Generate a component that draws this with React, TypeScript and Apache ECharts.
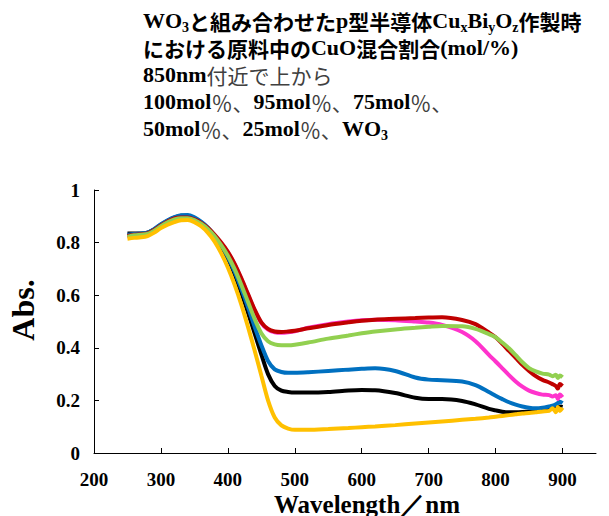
import React, { useEffect, useRef } from "react";
import * as echarts from "echarts";

const wavelengths = [250, 260, 270, 280, 290, 300, 310, 320, 330, 340, 350, 360, 370, 380, 390, 400, 410, 420, 430, 440, 450, 460, 470, 480, 490, 500, 520, 550, 580, 600, 620, 650, 680, 700, 720, 750, 770, 790, 800, 810, 820, 830, 840, 850, 860, 870, 880, 885, 890, 893, 896, 900];

const wo3 = [0.835, 0.835, 0.835, 0.838, 0.85, 0.868, 0.883, 0.895, 0.902, 0.902, 0.893, 0.877, 0.855, 0.825, 0.785, 0.74, 0.68, 0.61, 0.535, 0.455, 0.375, 0.3, 0.255, 0.237, 0.232, 0.23, 0.23, 0.232, 0.238, 0.24, 0.239, 0.228, 0.21, 0.205, 0.205, 0.198, 0.185, 0.168, 0.162, 0.157, 0.155, 0.155, 0.156, 0.158, 0.162, 0.167, 0.17, 0.172, 0.174, 0.175, 0.177, 0.175];
const mol25 = [0.83, 0.833, 0.835, 0.838, 0.852, 0.87, 0.885, 0.897, 0.904, 0.905, 0.896, 0.88, 0.858, 0.828, 0.79, 0.745, 0.69, 0.625, 0.555, 0.48, 0.41, 0.35, 0.318, 0.308, 0.305, 0.305, 0.307, 0.312, 0.317, 0.32, 0.322, 0.312, 0.287, 0.279, 0.277, 0.272, 0.258, 0.232, 0.218, 0.205, 0.193, 0.184, 0.177, 0.172, 0.17, 0.172, 0.177, 0.18, 0.185, 0.19, 0.195, 0.19];
const mol75 = [0.822, 0.827, 0.829, 0.832, 0.845, 0.862, 0.877, 0.889, 0.892, 0.892, 0.885, 0.872, 0.853, 0.827, 0.797, 0.762, 0.717, 0.662, 0.602, 0.542, 0.494, 0.469, 0.459, 0.457, 0.459, 0.463, 0.476, 0.49, 0.5, 0.505, 0.507, 0.505, 0.5, 0.496, 0.487, 0.46, 0.425, 0.373, 0.348, 0.322, 0.296, 0.272, 0.252, 0.237, 0.228, 0.222, 0.22, 0.215, 0.22, 0.205, 0.222, 0.212];
const mol100 = [0.825, 0.83, 0.832, 0.835, 0.848, 0.865, 0.88, 0.892, 0.895, 0.895, 0.888, 0.875, 0.856, 0.83, 0.8, 0.765, 0.72, 0.665, 0.605, 0.545, 0.497, 0.472, 0.462, 0.46, 0.462, 0.465, 0.474, 0.487, 0.497, 0.503, 0.507, 0.51, 0.513, 0.515, 0.516, 0.506, 0.49, 0.458, 0.44, 0.415, 0.388, 0.362, 0.335, 0.312, 0.292, 0.278, 0.268, 0.262, 0.255, 0.245, 0.262, 0.255];
const mol95 = [0.822, 0.828, 0.83, 0.833, 0.845, 0.862, 0.877, 0.888, 0.893, 0.893, 0.886, 0.872, 0.852, 0.825, 0.79, 0.75, 0.7, 0.64, 0.575, 0.51, 0.455, 0.425, 0.413, 0.41, 0.41, 0.412, 0.42, 0.435, 0.447, 0.455, 0.462, 0.47, 0.476, 0.48, 0.483, 0.482, 0.472, 0.452, 0.44, 0.42, 0.398, 0.372, 0.345, 0.323, 0.31, 0.302, 0.298, 0.292, 0.298, 0.285, 0.295, 0.288];
const mol50 = [0.815, 0.818, 0.82, 0.825, 0.838, 0.855, 0.868, 0.878, 0.885, 0.886, 0.878, 0.862, 0.838, 0.805, 0.76, 0.705, 0.64, 0.565, 0.48, 0.39, 0.295, 0.2, 0.135, 0.105, 0.093, 0.088, 0.088, 0.091, 0.095, 0.098, 0.101, 0.106, 0.112, 0.116, 0.12, 0.126, 0.13, 0.135, 0.138, 0.141, 0.144, 0.147, 0.15, 0.152, 0.155, 0.158, 0.16, 0.17, 0.155, 0.175, 0.16, 0.172];

const seriesNames = ["WO3", "25mol%", "75mol%", "100mol%", "95mol%", "50mol%"];
const seriesValues = [wo3, mol25, mol75, mol100, mol95, mol50];
const seriesColors = ["#000000", "#0070C0", "#FF33CC", "#C00000", "#92D050", "#FFC000"];

const xTickValues = [200, 300, 400, 500, 600, 700, 800, 900];
const yTickValues = [0, 0.2, 0.4, 0.6, 0.8, 1];

const titleLines = [
  "{b|WO}{sub|3}{j|と組み合わせた}{b|p}{j|型半導体}{b|Cu}{sub|x}{b|Bi}{sub|y}{b|O}{sub|z}{j|作製時}",
  "{j|における原料中の}{b|CuO}{j|混合割合}{b|(mol/%)}",
  "{b|850nm}{n|付近で上から}",
  "{b|100mol}{p|％、}{b|95mol}{p|％、}{b|75mol}{p|％、}",
  "{b|50mol}{p|％、}{b|25mol}{p|％、}{b|WO}{sub|3}",
];

const SERIF = '"Liberation Serif", "Times New Roman", serif';
const CJK = '"Noto Sans CJK JP", sans-serif';

export default function App() {
  const ref = useRef<HTMLDivElement>(null);
  useEffect(() => {
    const chart = echarts.init(ref.current!, null, { renderer: "svg" });
    const lh = 27;
    chart.setOption({
      animation: false,
      backgroundColor: "#ffffff",
      title: {
        left: 143,
        top: 7,
        padding: 0,
        text: titleLines.join("\n"),
        textStyle: {
          lineHeight: lh,
          rich: {
            b: { fontFamily: SERIF, fontWeight: "bold", fontSize: 22, color: "#000", lineHeight: lh },
            sub: { fontFamily: SERIF, fontWeight: "bold", fontSize: 14, color: "#000", lineHeight: 17, verticalAlign: "bottom" },
            j: { fontFamily: CJK, fontWeight: "bold", fontSize: 21, color: "#000", lineHeight: lh },
            n: { fontFamily: CJK, fontWeight: "normal", fontSize: 21, color: "#404040", lineHeight: lh },
            p: { fontFamily: CJK, fontWeight: "normal", fontSize: 21, color: "#404040", lineHeight: lh },
          },
        },
      },
      grid: { left: 94, right: 13, top: 190, bottom: 63, containLabel: false },
      xAxis: {
        type: "value",
        min: 200,
        max: 950,
        interval: 100,
        splitLine: { show: false },
        axisLine: { show: true, lineStyle: { color: "#000", width: 1 } },
        axisTick: { show: true, inside: true, length: 5, lineStyle: { color: "#000" }, customValues: xTickValues },
        axisLabel: {
          customValues: xTickValues,
          margin: 17,
          fontFamily: SERIF,
          fontWeight: "bold",
          fontSize: 19,
          color: "#000",
        },
      },
      yAxis: {
        type: "value",
        min: 0,
        max: 1,
        interval: 0.2,
        splitLine: { show: false },
        axisLine: { show: true, lineStyle: { color: "#000", width: 1 } },
        axisTick: { show: true, inside: true, length: 5, lineStyle: { color: "#000" }, customValues: yTickValues },
        axisLabel: {
          customValues: yTickValues,
          margin: 14,
          fontFamily: SERIF,
          fontWeight: "bold",
          fontSize: 19,
          color: "#000",
        },
      },
      graphic: [
        {
          type: "text",
          x: 23,
          y: 310,
          rotation: Math.PI / 2,
          style: {
            text: "Abs.",
            font: `bold 32px ${SERIF}`,
            fill: "#000",
            align: "center",
            verticalAlign: "middle",
          },
        },
        {
          type: "text",
          x: 367,
          y: 504,
          style: {
            text: "Wavelength／nm",
            font: `bold 25px ${SERIF}`,
            fill: "#000",
            align: "center",
            verticalAlign: "middle",
          },
        },
      ],
      series: seriesValues.map((vals, i) => ({
        name: seriesNames[i],
        type: "line",
        data: wavelengths.map((w, k) => [w, vals[k]]),
        showSymbol: false,
        smooth: 0.3,
        lineStyle: { color: seriesColors[i], width: 4 },
        itemStyle: { color: seriesColors[i] },
      })),
    });
    return () => chart.dispose();
  }, []);
  return <div ref={ref} style={{ position: "fixed", left: 0, top: 0, width: 609, height: 516 }} />;
}
